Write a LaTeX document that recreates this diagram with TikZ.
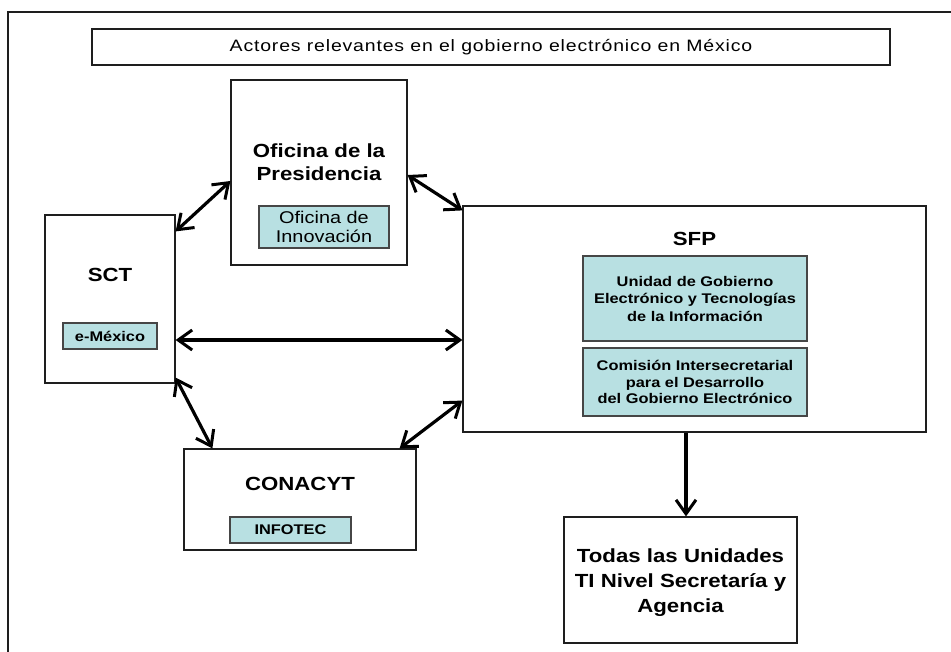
\documentclass[tikz,border=0pt]{standalone}
\usepackage{fontspec}
\setmainfont{Liberation Sans}
\newfontfamily\wf[FakeStretch=1.17]{Liberation Sans}
\newfontfamily\tf[FakeStretch=1.18,LetterSpace=5]{Liberation Sans}
\usetikzlibrary{arrows.meta}
\definecolor{boxblue}{RGB}{184,224,226}
\definecolor{edge}{RGB}{30,30,30}
\definecolor{subedge}{RGB}{70,70,70}
\tikzset{
  bigbox/.style={draw=edge,line width=1.2pt,fill=white,rectangle,inner sep=0pt},
  subbox/.style={draw=subedge,line width=1.4pt,fill=boxblue,rectangle,inner sep=0pt,align=center,text=black},
  lbl/.style={inner sep=0pt,align=center,font=\wf\bfseries\fontsize{19}{23}\selectfont},
  barbtip/.tip={Straight Barb[length=14pt,width=20pt,line width=3pt]},
  conn/.style={barbtip-barbtip,line width=3.2pt,black},
  oneway/.style={-barbtip,line width=3.2pt,black}
}
\begin{document}
\begin{tikzpicture}[x=1pt,y=-1pt]
\useasboundingbox[fill=white] (0,0) rectangle (951,652);
% outer frame (open at right and bottom)
\coordinate (frameTR) at (951,12);
\coordinate (frameTL) at (8,12);
\coordinate (frameBL) at (8,652);
\draw[edge,line width=1.3pt] (frameTR) -- (frameTL) -- (frameBL);
% title
\node[bigbox,minimum width=798pt,minimum height=36pt,font=\tf\fontsize{16.5}{18}\selectfont] (title) at (491,47) {Actores relevantes en el gobierno electrónico en México};
% main boxes
\node[bigbox,minimum width=176pt,minimum height=185pt] (pres) at (319,172.5) {};
\node[bigbox,minimum width=130pt,minimum height=168pt] (sct) at (110,299) {};
\node[bigbox,minimum width=463pt,minimum height=226pt] (sfp) at (694.5,319) {};
\node[bigbox,minimum width=232pt,minimum height=101pt] (conacyt) at (300,499.5) {};
\node[bigbox,minimum width=233pt,minimum height=126pt] (todas) at (680.5,580) {};
% labels
\node[lbl] (preslbl) at (319,162) {Oficina de la\\Presidencia};
\node[lbl] (sctlbl) at (110,275) {SCT};
\node[lbl] (sfplbl) at (694.5,239) {SFP};
\node[lbl] (conacytlbl) at (300,484) {CONACYT};
\node[lbl,font=\wf\bfseries\fontsize{19}{25}\selectfont] (todaslbl) at (680.5,582.5) {Todas las Unidades\\TI Nivel Secretaría y\\Agencia};
% sub boxes
\node[subbox,minimum width=130pt,minimum height=42pt,font=\wf\fontsize{17}{19}\selectfont] (innov) at (324,227) {Oficina de\\Innovación};
\node[subbox,minimum width=94pt,minimum height=26pt,font=\wf\bfseries\fontsize{14}{16}\selectfont] (emex) at (110,336) {e-México};
\node[subbox,minimum width=224pt,minimum height=85pt,font=\wf\bfseries\fontsize{14}{17.5}\selectfont] (unidad) at (695,298.5) {Unidad de Gobierno\\Electrónico y Tecnologías\\de la Información};
\node[subbox,minimum width=224pt,minimum height=68pt,font=\wf\bfseries\fontsize{14}{16.5}\selectfont] (comision) at (695,382) {Comisión Intersecretarial\\para el Desarrollo\\del Gobierno Electrónico};
\node[subbox,minimum width=121pt,minimum height=26pt,font=\wf\bfseries\fontsize{14}{16}\selectfont] (infotec) at (290.5,530) {INFOTEC};
% connectors
\draw[conn] ([yshift=-8.5pt]pres.west) -- ([yshift=-17pt]sct.north east);
\draw[conn] ([yshift=-2.5pt]pres.east) -- ([yshift=-5pt]sfp.north west);
\draw[conn] ([yshift=-41pt]sct.east) -- ([yshift=-21pt]sfp.west);
\draw[conn] ([yshift=6pt]sct.south east) -- ([xshift=29pt]conacyt.north west);
\draw[conn] ([xshift=-17pt]conacyt.north east) -- ([yshift=32pt]sfp.south west);
\draw[oneway] ([xshift=-8.5pt]sfp.south) -- ([xshift=5.5pt]todas.north);
\end{tikzpicture}
\end{document}
